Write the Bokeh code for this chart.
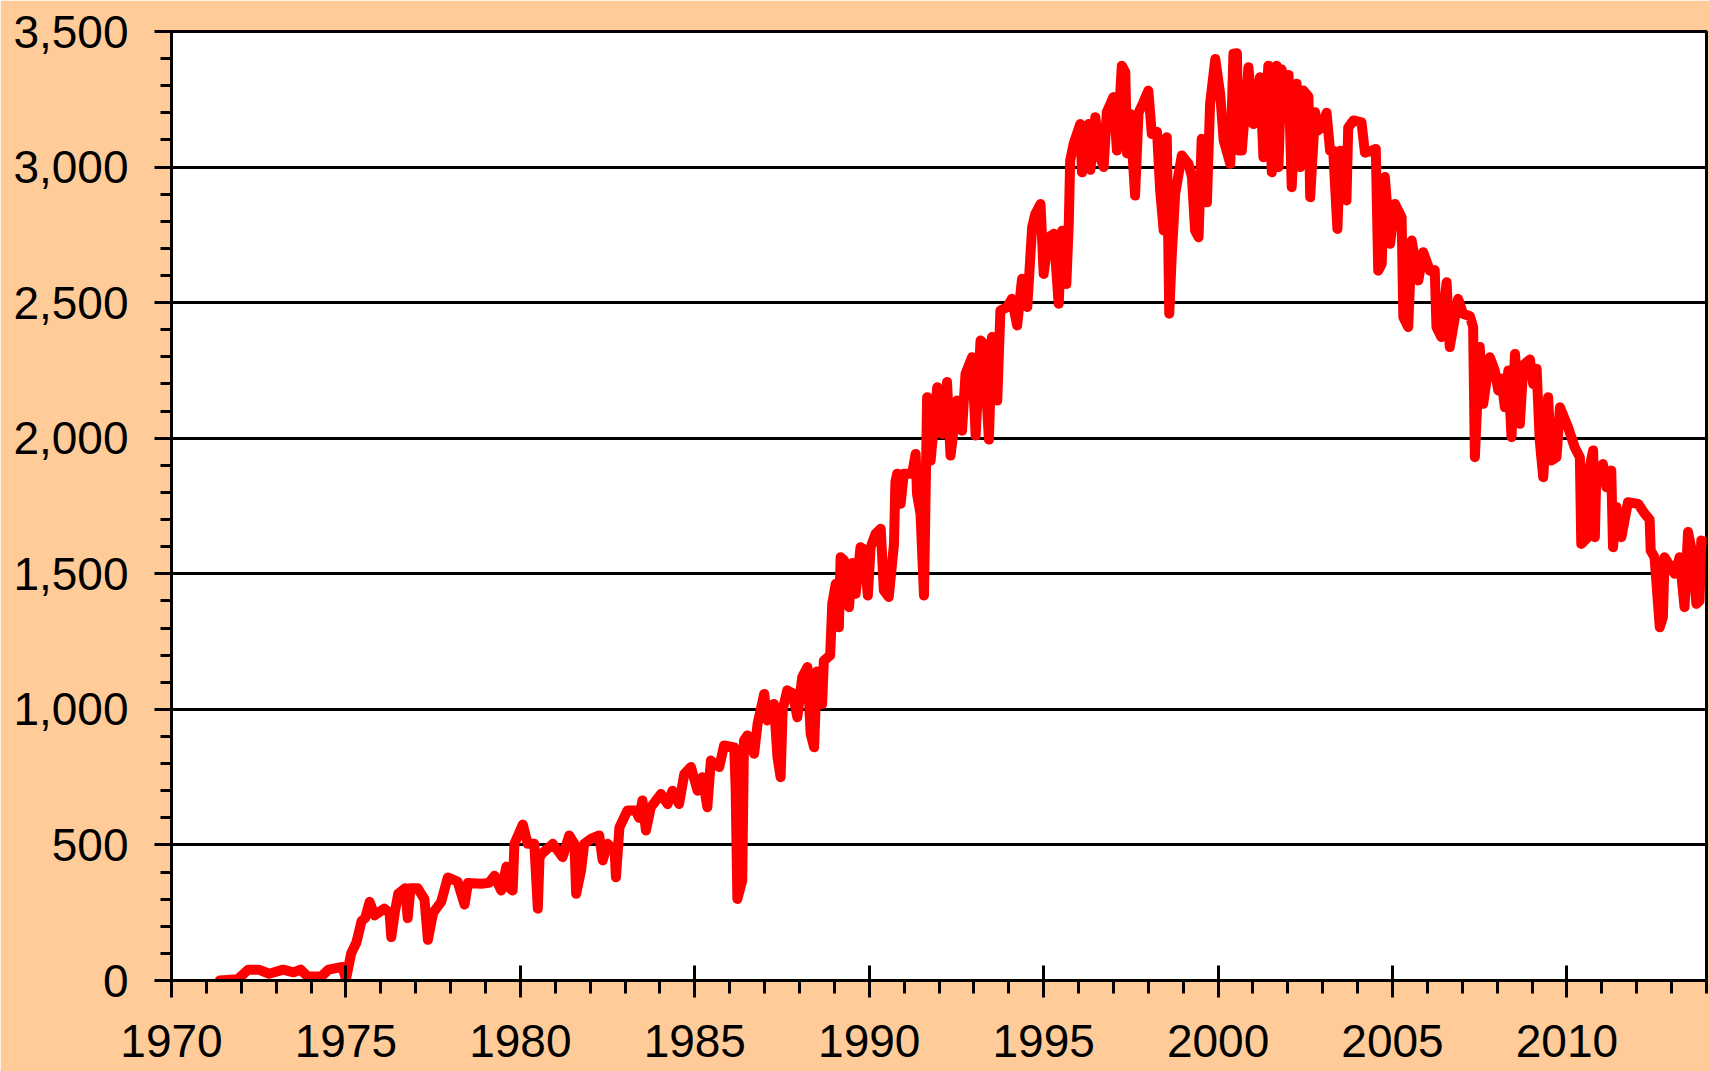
from bokeh.plotting import figure
from bokeh.models import FixedTicker, NumeralTickFormatter, ColumnDataSource
from bokeh.embed import file_html
from bokeh.resources import INLINE

# ---- data ----
year = [
    1971.38, 1971.9, 1972.2, 1972.5, 1972.8, 1973.2, 1973.5, 1973.7, 1973.9, 1974.3,
    1974.5, 1974.9, 1975.0, 1975.15, 1975.3, 1975.45, 1975.55, 1975.68, 1975.82, 1976.1,
    1976.25, 1976.3, 1976.4, 1976.5, 1976.7, 1976.77, 1976.85, 1977.06, 1977.25, 1977.35,
    1977.5, 1977.73, 1977.92, 1978.2, 1978.4, 1978.5, 1978.88, 1979.1, 1979.26, 1979.45,
    1979.6, 1979.7, 1979.78, 1979.83, 1980.07, 1980.21, 1980.4, 1980.5, 1980.55, 1980.64,
    1980.93, 1981.21, 1981.4, 1981.55, 1981.6, 1981.74, 1981.83, 1982.02, 1982.26, 1982.36,
    1982.5, 1982.7, 1982.74, 1982.84, 1983.07, 1983.31, 1983.4, 1983.5, 1983.6, 1983.74,
    1984.03, 1984.22, 1984.36, 1984.55, 1984.7, 1984.89, 1985.08, 1985.22, 1985.36, 1985.46,
    1985.7, 1985.84, 1986.13, 1986.17, 1986.22, 1986.36, 1986.41, 1986.51, 1986.7, 1986.8,
    1986.99, 1987.08, 1987.27, 1987.37, 1987.46, 1987.52, 1987.65, 1987.8, 1987.94, 1988.08,
    1988.23, 1988.32, 1988.42, 1988.5, 1988.65, 1988.7, 1988.88, 1988.94, 1989.04, 1989.13,
    1989.18, 1989.28, 1989.42, 1989.52, 1989.61, 1989.75, 1989.85, 1989.96, 1990.04, 1990.18,
    1990.33, 1990.42, 1990.56, 1990.71, 1990.75, 1990.8, 1990.9, 1990.99, 1991.23, 1991.33,
    1991.37, 1991.47, 1991.57, 1991.66, 1991.76, 1991.95, 1992.09, 1992.23, 1992.33, 1992.52,
    1992.66, 1992.76, 1992.95, 1993.05, 1993.19, 1993.28, 1993.43, 1993.52, 1993.67, 1993.76,
    1993.95, 1994.09, 1994.24, 1994.38, 1994.53, 1994.67, 1994.76, 1994.91, 1995.0, 1995.14,
    1995.29, 1995.43, 1995.53, 1995.65, 1995.72, 1995.76, 1995.86, 1996.05, 1996.1, 1996.29,
    1996.34, 1996.48, 1996.62, 1996.72, 1996.81, 1997.0, 1997.1, 1997.24, 1997.34, 1997.39,
    1997.48, 1997.62, 1997.72, 1997.86, 1998.0, 1998.1, 1998.25, 1998.34, 1998.44, 1998.53,
    1998.6, 1998.67, 1998.77, 1998.96, 1999.15, 1999.25, 1999.34, 1999.44, 1999.53, 1999.68,
    1999.77, 1999.92, 2000.06, 2000.16, 2000.35, 2000.44, 2000.54, 2000.58, 2000.68, 2000.87,
    2001.01, 2001.2, 2001.3, 2001.44, 2001.54, 2001.68, 2001.73, 2001.82, 2001.97, 2002.02,
    2002.11, 2002.25, 2002.35, 2002.45, 2002.59, 2002.64, 2002.78, 2002.87, 2002.97, 2003.11,
    2003.21, 2003.3, 2003.42, 2003.5, 2003.68, 2003.73, 2003.88, 2004.11, 2004.21, 2004.4,
    2004.52, 2004.59, 2004.69, 2004.78, 2004.93, 2005.07, 2005.26, 2005.31, 2005.45, 2005.55,
    2005.74, 2005.88, 2006.07, 2006.21, 2006.26, 2006.4, 2006.55, 2006.64, 2006.88, 2007.02,
    2007.22, 2007.31, 2007.36, 2007.5, 2007.6, 2007.79, 2007.93, 2008.03, 2008.12, 2008.22,
    2008.32, 2008.41, 2008.51, 2008.65, 2008.75, 2008.94, 2009.03, 2009.13, 2009.22, 2009.32,
    2009.46, 2009.55, 2009.7, 2009.8, 2010.03, 2010.22, 2010.37, 2010.41, 2010.6, 2010.65,
    2010.75, 2010.8, 2010.84, 2011.03, 2011.13, 2011.27, 2011.32, 2011.42, 2011.56, 2011.75,
    2012.04, 2012.23, 2012.37, 2012.4, 2012.51, 2012.66, 2012.75, 2012.8, 2013.09, 2013.23,
    2013.37, 2013.47, 2013.56, 2013.71, 2013.8, 2013.85, 2013.95,
]
count = [
    0, 5, 40, 40, 25, 40, 30, 40, 15, 15,
    40, 50, 5, 100, 140, 220, 230, 290, 240, 265,
    250, 160, 250, 320, 340, 230, 340, 340, 300, 150,
    250, 290, 380, 365, 280, 360, 357, 360, 386, 332,
    420, 340, 332, 504, 575, 504, 504, 265, 455, 470,
    504, 455, 535, 504, 320, 406, 504, 522, 535, 443,
    504, 480, 381, 565, 627, 627, 600, 664, 553, 639,
    688, 651, 700, 651, 762, 787, 700, 750, 639, 811,
    787, 867, 860, 713, 301, 369, 885, 904, 836, 947,
    1057, 959, 1020, 824, 750, 1000, 1070, 1060, 971, 1119,
    1156, 910, 860, 1140, 1020, 1180, 1199, 1389, 1463, 1303,
    1561, 1550, 1377, 1540, 1426, 1598, 1590, 1420, 1598, 1647,
    1666, 1438, 1414, 1610, 1838, 1869, 1758, 1869, 1869, 1942,
    1795, 1721, 1420, 2151, 1918, 2188, 2016, 2207, 1936, 2139,
    2028, 2237, 2299, 2010, 2360, 2350, 1995, 2373, 2139, 2471,
    2483, 2514, 2416, 2588, 2484, 2778, 2827, 2864, 2606, 2741,
    2754, 2496, 2765, 2569, 2791, 3024, 3086, 3159, 2981, 3159,
    2990, 3184, 3036, 3000, 3202, 3258, 3061, 3374, 3350, 3050,
    3196, 2895, 3200, 3239, 3282, 3122, 3130, 2913, 2766, 3110,
    2459, 2668, 2901, 3043, 3012, 2963, 2766, 2741, 3104, 2870,
    3233, 3399, 3270, 3098, 3012, 3418, 3420, 3061, 3061, 3368,
    3159, 3331, 3036, 3374, 2981, 3374, 3000, 3360, 3221, 3340,
    2926, 3307, 3000, 3282, 3260, 2889, 3202, 3135, 3147, 3200,
    3061, 3060, 2772, 3060, 2877, 3145, 3172, 3165, 3053, 3060,
    3067, 2618, 2643, 2963, 2717, 2864, 2815, 2446, 2410, 2729,
    2582, 2686, 2618, 2620, 2410, 2373, 2575, 2336, 2514, 2459,
    2450, 2410, 1930, 2336, 2127, 2299, 2250, 2176, 2220, 2114,
    2250, 2004, 2311, 2053, 2270, 2290, 2200, 2256, 1991, 1856,
    2151, 1918, 1930, 2114, 2041, 1967, 1930, 1610, 1635, 1893,
    1955, 1635, 1860, 1905, 1819, 1881, 1598, 1746, 1635, 1764,
    1758, 1721, 1700, 1586, 1561, 1303, 1340, 1561, 1500, 1561,
    1377, 1654, 1598, 1389, 1400, 1623, 1617,
]

x_major = [1970, 1975, 1980, 1985, 1990, 1995, 2000, 2005, 2010]
x_minor = list(range(1970, 2015))
y_major = [0, 500, 1000, 1500, 2000, 2500, 3000, 3500]
y_minor = list(range(0, 3600, 100))

src = ColumnDataSource(data=dict(year=year, count=count))

p = figure(width=1709, height=1071, x_range=(1970, 2014), y_range=(0, 3500),
           output_backend="svg", toolbar_location=None,
           min_border_left=171, min_border_right=3, min_border_top=31, min_border_bottom=91)

p.border_fill_color = "#FFCC99"
p.background_fill_color = "white"
p.outline_line_color = "black"
p.outline_line_width = 3

p.line("year", "count", source=src, line_color="#FF0000", line_width=10,
       line_join="round", line_cap="round")

# grids
p.xgrid.visible = False
p.ygrid.ticker = FixedTicker(ticks=y_major)
p.ygrid.grid_line_color = "black"
p.ygrid.grid_line_width = 3
p.ygrid.grid_line_alpha = 1.0

# y axis
ya = p.yaxis[0]
ya.ticker = FixedTicker(ticks=y_major, minor_ticks=y_minor)
ya.formatter = NumeralTickFormatter(format="0,0")
ya.axis_line_width = 3
ya.axis_line_color = "black"
ya.major_tick_in = 0
ya.major_tick_out = 17
ya.minor_tick_in = 0
ya.minor_tick_out = 11
ya.major_tick_line_width = 3
ya.minor_tick_line_width = 3
ya.major_label_text_font = "Liberation Sans"
ya.major_label_text_font_size = "46px"
ya.major_label_text_color = "black"
ya.major_label_standoff = 26

# x axis
xa = p.xaxis[0]
xa.ticker = FixedTicker(ticks=x_major, minor_ticks=x_minor)
xa.axis_line_width = 3
xa.axis_line_color = "black"
xa.major_tick_in = 15
xa.major_tick_out = 17
xa.minor_tick_in = 0
xa.minor_tick_out = 13
xa.major_tick_line_width = 3
xa.minor_tick_line_width = 3
xa.major_label_text_font = "Liberation Sans"
xa.major_label_text_font_size = "46px"
xa.major_label_text_color = "black"
xa.major_label_standoff = 27

open("out.html", "w").write(file_html(p, INLINE))
